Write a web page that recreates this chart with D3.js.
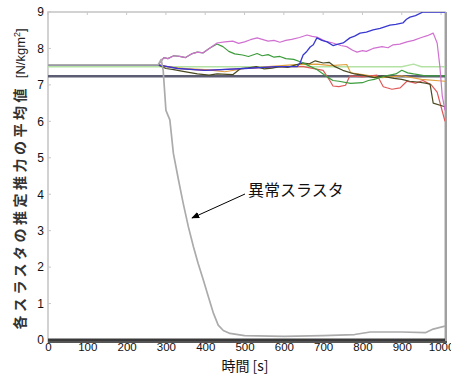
<!DOCTYPE html>
<html><head><meta charset="utf-8">
<script src="https://cdn.jsdelivr.net/npm/d3@7"></script>
<style>
html,body{margin:0;padding:0;background:#fff;}
svg{display:block;}
</style></head>
<body>
<svg id="c" width="451" height="376"></svg>
<script>
// ---- data ----
const xTicks = [0,100,200,300,400,500,600,700,800,900,1000];
const yTicks = [0,1,2,3,4,5,6,7,8,9];

const sLightGreen = [[0,7.5],[700,7.5],[900,7.5],[930,7.57],[950,7.5],[1010,7.5]];
const sConst = [[0,7.24],[1010,7.24]];
const sOrange = [[0,7.55],[280,7.55],[300,7.5],[350,7.45],[400,7.42],[450,7.36],[500,7.45],[560,7.5],[620,7.55],[684,7.57],[720,7.53],[760,7.56],[770,7.33],[800,7.28],[850,7.2],[900,7.25],[950,7.15],[1010,7.1]];
const sRed = [[0,7.55],[280,7.55],[330,7.45],[400,7.4],[500,7.45],[600,7.5],[650,7.5],[700,7.4],[718,7.1],[725,6.97],[740,6.95],[757,6.99],[768,7.25],[800,7.22],[837,7.27],[853,6.95],[875,6.88],[896,6.92],[913,7.1],[935,7.05],[954,7.12],[975,7.0],[990,6.8],[1000,6.4],[1010,6.0]];
const sOlive = [[0,7.55],[280,7.55],[300,7.45],[320,7.42],[340,7.38],[380,7.3],[410,7.27],[430,7.3],[470,7.28],[490,7.45],[510,7.47],[530,7.5],[550,7.44],[570,7.46],[590,7.5],[610,7.48],[630,7.55],[650,7.6],[665,7.58],[680,7.66],[700,7.6],[715,7.62],[730,7.5],[750,7.4],[780,7.3],[800,7.27],[830,7.2],[850,7.24],[880,7.18],[900,7.15],[920,7.1],[940,7.08],[960,7.05],[972,7.02],[980,6.5],[1010,6.4]];
const sGreen = [[0,7.55],[280,7.55],[295,7.75],[305,7.72],[320,7.8],[335,7.78],[350,7.75],[365,7.85],[380,7.9],[395,7.88],[410,8.0],[430,8.12],[445,8.05],[460,7.92],[475,7.85],[495,7.82],[510,7.78],[532,7.86],[545,7.8],[560,7.83],[575,7.76],[590,7.78],[605,7.72],[625,7.7],[645,7.62],[659,7.55],[684,7.42],[700,7.3],[710,7.22],[725,7.12],[740,7.1],[770,7.04],[800,7.06],[815,7.12],[830,7.15],[860,7.25],[885,7.3],[900,7.4],[915,7.33],[930,7.3],[960,7.25],[1010,7.25]];
const sPink = [[0,7.55],[280,7.55],[295,7.75],[305,7.72],[320,7.8],[335,7.78],[350,7.75],[365,7.85],[380,7.9],[395,7.88],[410,8.0],[430,8.15],[450,8.18],[470,8.2],[485,8.14],[500,8.18],[515,8.24],[532,8.29],[545,8.25],[560,8.2],[575,8.22],[590,8.17],[605,8.22],[620,8.25],[640,8.3],[659,8.37],[672,8.33],[684,8.31],[705,8.2],[725,8.15],[745,8.08],[760,8.05],[775,7.95],[786,7.9],[800,7.94],[810,7.92],[827,8.0],[850,8.05],[865,8.02],[878,8.1],[895,8.12],[913,8.18],[930,8.22],[950,8.3],[965,8.35],[980,8.42],[990,8.15],[997,7.5],[1003,6.7],[1010,6.3]];
const sBlue = [[0,7.55],[280,7.55],[330,7.45],[400,7.4],[500,7.45],[580,7.5],[634,7.5],[642,7.62],[649,7.82],[657,7.9],[667,8.04],[675,8.1],[684,8.29],[697,8.22],[710,8.18],[725,8.08],[738,8.12],[751,8.15],[768,8.29],[780,8.34],[794,8.42],[810,8.45],[827,8.51],[845,8.55],[870,8.64],[885,8.66],[903,8.7],[912,8.8],[921,8.86],[935,8.9],[954,9.0],[1010,9.0]];
const sAbnormal = [[0,7.55],[280,7.55],[288,7.7],[293,7.4],[300,6.3],[310,6.04],[319,5.12],[332,4.39],[344,3.75],[357,3.11],[370,2.56],[382,2.1],[395,1.65],[408,1.19],[421,0.73],[433,0.41],[446,0.26],[463,0.18],[500,0.12],[600,0.1],[700,0.12],[780,0.15],[820,0.22],[900,0.22],[960,0.2],[980,0.3],[1010,0.38]];
const sZero = [[0,0.0],[1010,0.0]];

const series = [
  {d:sLightGreen, c:"#b4e2a4", w:1.5},
  {d:sConst, c:"#5c5c72", w:2.5},
  {d:sOrange, c:"#e0a040", w:1.2},
  {d:sRed, c:"#e05858", w:1.2},
  {d:sOlive, c:"#4a4a22", w:1.2},
  {d:sGreen, c:"#3c9c3c", w:1.2},
  {d:sPink, c:"#d070d0", w:1.2},
  {d:sBlue, c:"#3838d0", w:1.3},
  {d:sAbnormal, c:"#ababab", w:1.7},
  {d:sZero, c:"#3a3a3a", w:3}
];

// ---- layout ----
const svg = d3.select("#c");
const L=48, R=445, T=12, B=340;
const x = d3.scaleLinear().domain([0,1010]).range([L,R]);
const y = d3.scaleLinear().domain([0,9]).range([B,T]);

svg.append("defs").append("clipPath").attr("id","clip")
  .append("rect").attr("x",L).attr("y",T).attr("width",R-L).attr("height",B-T+3);

// frame
svg.append("rect").attr("x",L).attr("y",T).attr("width",R-L).attr("height",B-T+2)
  .attr("fill","#fff").attr("stroke","#c4c4c4").attr("stroke-width",1.5);

// faint inner ticks
const g = svg.append("g");
xTicks.forEach(t=>{
  g.append("line").attr("x1",x(t)).attr("x2",x(t)).attr("y1",T).attr("y2",T+3).attr("stroke","#c8c8c8");
});
yTicks.forEach(t=>{
  g.append("line").attr("x1",L).attr("x2",L+3).attr("y1",y(t)).attr("y2",y(t)).attr("stroke","#c8c8c8");
});

const line = d3.line().x(d=>x(d[0])).y(d=>y(d[1]));
const pg = svg.append("g").attr("clip-path","url(#clip)");
series.forEach(s=>{
  pg.append("path").attr("d",line(s.d)).attr("fill","none")
    .attr("stroke",s.c).attr("stroke-width",s.w).attr("stroke-linejoin","round");
});

// right & bottom border
svg.append("line").attr("x1",R+1).attr("x2",R+1).attr("y1",T).attr("y2",B+3).attr("stroke","#a0a0a0").attr("stroke-width",2);
svg.append("line").attr("x1",L).attr("x2",R+2).attr("y1",B+2).attr("y2",B+2).attr("stroke","#555").attr("stroke-width",2);

// axes labels
const xAxis = d3.axisBottom(x).tickValues(xTicks).tickSize(0).tickPadding(1).tickFormat(d3.format("d"));
const gx = svg.append("g").attr("transform",`translate(0,${B+2})`).call(xAxis);
gx.select(".domain").remove();
gx.selectAll("text").attr("font-family","Liberation Sans, Arial, sans-serif").attr("font-size",11.5).attr("fill","#111");

const yAxis = d3.axisLeft(y).tickValues(yTicks).tickSize(0).tickPadding(4);
const gy = svg.append("g").attr("transform",`translate(${L},0)`).call(yAxis);
gy.select(".domain").remove();
gy.selectAll("text").attr("font-family","Liberation Sans, Arial, sans-serif").attr("font-size",12).attr("fill","#111");

// x label
svg.append("text").attr("x",245).attr("y",371).attr("text-anchor","middle")
  .attr("font-family","Noto Sans CJK JP, sans-serif").attr("font-size",14).attr("fill","#111")
  .text("時間 [s]");

// y label
const yl = svg.append("text").attr("transform","translate(25,179) rotate(-90)")
  .attr("text-anchor","middle").attr("font-family","Noto Sans CJK JP, sans-serif").attr("fill","#222");
yl.append("tspan").attr("font-size",14).attr("font-weight","bold").attr("letter-spacing",3.5).attr("fill","#333").text("各スラスタの推定推力の平均値 ");
yl.append("tspan").attr("font-size",13).attr("font-family","Liberation Sans, Arial, sans-serif").text("[N/kgm");
yl.append("tspan").attr("font-size",9).attr("dy",-5).attr("font-family","Liberation Sans, Arial, sans-serif").text("2");
yl.append("tspan").attr("font-size",13).attr("dy",5).attr("font-family","Liberation Sans, Arial, sans-serif").text("]");

// annotation
svg.append("defs").append("marker").attr("id","ah").attr("viewBox","0 0 10 10")
  .attr("refX",9).attr("refY",5).attr("markerWidth",8).attr("markerHeight",8).attr("orient","auto")
  .append("path").attr("d","M0,1 L10,5 L0,9 Z").attr("fill","#000");
svg.append("line").attr("x1",245).attr("y1",194).attr("x2",192).attr("y2",218)
  .attr("stroke","#000").attr("stroke-width",1).attr("marker-end","url(#ah)");
svg.append("text").attr("x",248).attr("y",196).attr("font-family","Noto Sans CJK JP, sans-serif")
  .attr("font-size",16).attr("fill","#111").text("異常スラスタ");
</script>
</body></html>
